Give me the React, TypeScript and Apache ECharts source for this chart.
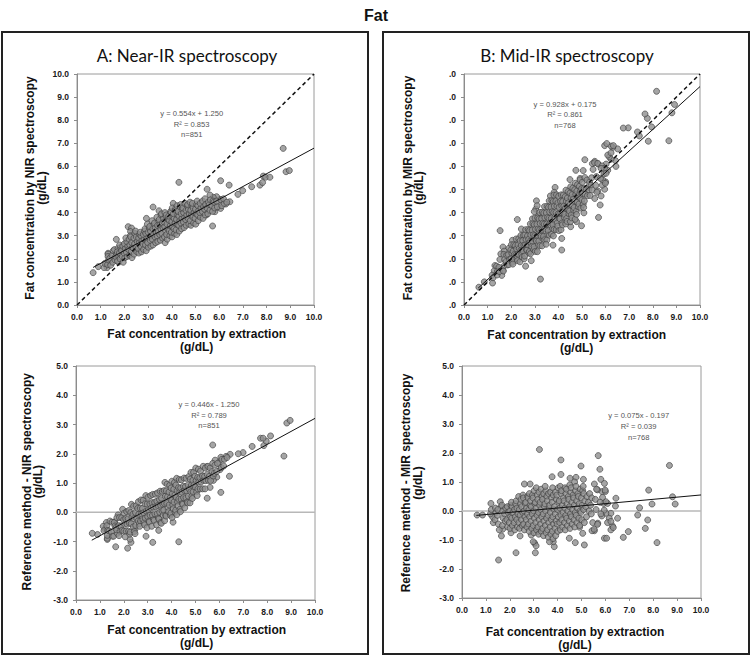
import React, { useEffect, useRef } from "react";
import * as echarts from "echarts";

// ---------- Data ----------
// Panel A: reference fat (x) vs NIR estimate (y)
const nirPoints: [number, number][] = [
  [8.70,6.78],[8.82,5.77],[8.96,5.82],[7.86,5.58],[7.96,5.53],[8.14,5.53],[7.72,5.19],[7.83,5.30],[7.37,5.12],[6.99,4.95],[6.79,4.79],[6.42,5.19],[6.06,5.38],[5.49,5.01],[5.72,3.42],[4.30,5.31],[6.45,4.47],[6.28,4.37],[6.03,4.57],[5.89,4.69],[5.75,4.66],[5.61,4.76],[5.96,4.26],[6.06,4.18],[5.82,4.04],[5.46,3.90],[3.21,4.24],[3.46,4.08],[2.93,3.75],[4.06,4.40],[2.16,3.39],[2.30,3.33],[1.66,2.84],[1.31,2.24],[0.90,1.66],[0.68,1.40],[1.21,1.78],[1.27,1.62],[1.62,1.95],[1.76,1.85],[2.26,3.18],[2.47,3.05],[1.31,2.20],
  [1.14,1.62],[1.17,1.80],[1.29,1.75],[1.33,1.95],[1.31,2.10],[1.42,1.72],[1.38,2.02],[1.51,1.85],[1.48,2.15],[1.53,2.35],[1.60,1.95],[1.63,2.10],[1.58,2.40],[1.71,1.90],[1.68,2.20],[1.73,2.45],[1.70,2.30],[1.82,2.00],[1.79,2.25],[1.84,2.50],[1.80,2.60],[1.91,2.10],[1.88,2.35],[1.93,2.55],[1.95,1.85],
  [2.02,2.05],[1.99,2.25],[2.04,2.45],[2.00,2.65],[2.12,2.10],[2.08,2.30],[2.14,2.55],[2.10,2.75],[2.06,2.90],[2.21,2.15],[2.18,2.40],[2.23,2.60],[2.20,2.85],[2.25,3.00],[2.32,2.05],[2.29,2.30],[2.34,2.50],[2.31,2.70],[2.27,2.95],[2.41,2.20],[2.38,2.45],[2.43,2.65],[2.40,2.90],[2.44,3.10],
  [2.52,2.30],[2.49,2.50],[2.54,2.75],[2.50,2.95],[2.47,3.20],[2.61,2.25],[2.58,2.45],[2.63,2.70],[2.60,2.90],[2.65,3.05],[2.72,2.30],[2.69,2.55],[2.74,2.80],[2.70,3.00],[2.67,3.15],[2.81,2.40],[2.78,2.65],[2.83,2.85],[2.80,3.05],[2.85,3.20],[2.92,2.35],[2.89,2.60],[2.94,2.90],[2.90,3.10],[2.87,3.30],
  [3.01,2.50],[2.98,2.70],[3.03,2.95],[3.00,3.15],[3.05,3.35],[2.97,3.50],[3.12,2.55],[3.09,2.80],[3.14,3.00],[3.10,3.20],[3.07,3.40],[3.21,2.60],[3.18,2.85],[3.23,3.05],[3.20,3.30],[3.25,3.50],[3.17,3.65],[3.32,2.70],[3.29,2.95],[3.34,3.15],[3.30,3.35],[3.27,3.55],[3.41,2.75],[3.38,3.00],[3.43,3.20],[3.40,3.45],[3.45,3.65],[3.37,3.80],
  [3.52,2.80],[3.49,3.05],[3.54,3.30],[3.50,3.50],[3.47,3.70],[3.55,3.90],[3.61,2.90],[3.58,3.10],[3.63,3.35],[3.60,3.55],[3.65,3.75],[3.57,3.95],[3.72,2.70],[3.69,2.95],[3.74,3.20],[3.70,3.40],[3.67,3.60],[3.75,3.85],[3.71,4.00],[3.81,2.85],[3.78,3.05],[3.83,3.30],[3.80,3.50],[3.85,3.70],[3.77,3.90],[3.92,3.00],[3.89,3.20],[3.94,3.45],[3.90,3.65],[3.87,3.85],[3.95,4.05],
  [4.01,2.95],[3.98,3.15],[4.03,3.40],[4.00,3.60],[4.05,3.80],[3.97,4.00],[4.02,4.20],[4.12,3.10],[4.09,3.30],[4.14,3.55],[4.10,3.75],[4.07,3.95],[4.15,4.15],[4.21,3.05],[4.18,3.25],[4.23,3.50],[4.20,3.70],[4.25,3.90],[4.17,4.10],[4.22,4.30],[4.32,3.20],[4.29,3.45],[4.34,3.65],[4.30,3.85],[4.27,4.05],[4.35,4.25],[4.41,3.30],[4.38,3.55],[4.43,3.75],[4.40,3.95],[4.45,4.15],[4.37,4.35],
  [4.52,3.35],[4.49,3.60],[4.54,3.80],[4.50,4.00],[4.47,4.20],[4.55,4.40],[4.61,3.45],[4.58,3.70],[4.63,3.90],[4.60,4.10],[4.65,4.30],[4.72,3.50],[4.69,3.75],[4.74,3.95],[4.70,4.15],[4.67,4.35],[4.81,3.45],[4.78,3.65],[4.83,3.90],[4.80,4.10],[4.85,4.30],[4.77,4.45],[4.92,3.55],[4.89,3.80],[4.94,4.00],[4.90,4.20],[4.87,4.40],
  [5.01,3.50],[4.98,3.75],[5.03,3.95],[5.00,4.15],[5.05,4.35],[5.12,3.65],[5.09,3.90],[5.14,4.10],[5.10,4.30],[5.07,4.50],[5.21,3.80],[5.18,4.00],[5.23,4.20],[5.20,4.40],[5.32,3.75],[5.29,4.05],[5.34,4.25],[5.30,4.50],[5.41,3.90],[5.38,4.15],[5.43,4.35],[5.40,4.60],
  [5.52,3.95],[5.49,4.20],[5.54,4.45],[5.61,4.10],[5.58,4.35],[5.63,4.55],[5.72,4.05],[5.69,4.30],[5.74,4.50],[5.81,4.20],[5.78,4.45],[5.92,4.25],[5.89,4.50],[6.11,4.30],[6.08,4.55],[6.21,4.40],[6.18,4.60],[6.32,4.45],
];

// Panel B: reference fat (x) vs (reference - MIR) difference
const mirDiffPoints: [number, number][] = [
  [3.24,2.12],[4.14,1.76],[5.70,1.91],[4.98,1.55],[8.68,1.57],[4.14,1.26],[5.77,1.44],[3.77,1.18],[2.61,0.93],[2.85,0.93],[4.52,1.13],[4.77,1.16],[5.08,1.09],[5.81,1.09],[5.96,0.95],[5.54,0.93],[5.86,0.67],[6.00,0.67],[6.44,0.44],[6.42,0.17],[8.81,0.49],[8.92,0.24],[7.95,0.24],[7.43,0.11],[7.81,0.72],[5.93,0.26],[6.09,0.26],[7.35,-0.14],[6.51,-0.25],[6.23,-0.08],[6.16,-0.25],[6.02,-0.08],[5.68,-0.42],[5.47,-0.40],[5.54,-0.68],[5.44,-0.68],[7.77,-0.31],[7.67,-0.60],[6.96,-0.71],[6.75,-0.91],[6.30,-0.52],[6.23,-0.65],[5.96,-0.94],[6.05,-0.94],[8.16,-1.09],[5.12,-1.17],[4.74,-1.09],[5.05,-0.77],[4.49,-0.94],[3.86,-1.23],[3.82,-1.06],[3.66,-1.06],[3.04,-1.11],[3.07,-1.44],[2.26,-1.44],[1.53,-1.69],[3.10,-1.20],[2.98,-1.06],[1.21,0.26],[0.63,-0.14],[0.86,-0.14],[1.60,0.32],[1.65,0.15],[1.65,-0.86],[1.70,-0.63],[1.31,-0.40],[1.56,-0.65],[1.28,-0.20],[2.05,-0.75],[2.43,-0.86],[2.90,-0.83],[3.17,-0.71],
  [6.09,-0.40],[6.23,-0.36],[5.53,-0.63],[5.67,-0.46],[5.85,-0.17],[5.95,0.03],[6.02,0.32],[5.88,0.47],[5.99,0.72],[5.67,0.73],[4.92,-0.56],[6.33,-0.57],
  [1.19,-0.10],[1.23,0.05],[1.38,-0.30],[1.42,-0.05],[1.40,0.10],[1.52,-0.45],[1.48,-0.15],[1.50,0.05],[1.69,-0.50],[1.72,-0.25],[1.70,0.00],[1.67,0.20],[1.81,-0.35],[1.78,-0.10],[1.83,0.10],[1.91,-0.55],[1.88,-0.30],[1.93,-0.05],[1.90,0.15],
  [2.01,-0.60],[1.98,-0.40],[2.03,-0.20],[2.00,0.00],[2.05,0.20],[2.11,-0.50],[2.08,-0.25],[2.13,-0.05],[2.10,0.15],[2.07,0.30],[2.21,-0.65],[2.18,-0.40],[2.23,-0.20],[2.20,0.05],[2.25,0.25],[2.32,-0.55],[2.29,-0.30],[2.34,-0.10],[2.30,0.10],[2.27,0.35],[2.41,-0.60],[2.38,-0.40],[2.43,-0.15],[2.40,0.05],[2.45,0.25],[2.37,0.50],
  [2.52,-0.50],[2.49,-0.30],[2.54,-0.05],[2.50,0.15],[2.47,0.40],[2.55,0.55],[2.61,-0.65],[2.58,-0.45],[2.63,-0.20],[2.60,0.00],[2.65,0.25],[2.57,0.45],[2.72,-0.55],[2.69,-0.30],[2.74,-0.10],[2.70,0.10],[2.67,0.30],[2.75,0.50],[2.81,-0.70],[2.78,-0.45],[2.83,-0.20],[2.80,0.05],[2.85,0.20],[2.77,0.45],[2.82,0.60],[2.92,-0.60],[2.89,-0.35],[2.94,-0.10],[2.90,0.15],[2.87,0.35],[2.95,0.55],
  [3.01,-0.75],[2.98,-0.50],[3.03,-0.25],[3.00,0.00],[3.05,0.25],[2.97,0.45],[3.02,0.70],[3.12,-0.65],[3.09,-0.40],[3.14,-0.15],[3.10,0.10],[3.07,0.30],[3.15,0.55],[3.11,0.80],[3.21,-0.80],[3.18,-0.55],[3.23,-0.30],[3.20,-0.05],[3.25,0.20],[3.17,0.40],[3.22,0.65],[3.32,-0.70],[3.29,-0.45],[3.34,-0.20],[3.30,0.05],[3.27,0.30],[3.35,0.50],[3.31,0.75],[3.41,-0.85],[3.38,-0.60],[3.43,-0.35],[3.40,-0.10],[3.45,0.15],[3.37,0.40],[3.42,0.60],
  [3.52,-0.75],[3.49,-0.50],[3.54,-0.25],[3.50,0.00],[3.47,0.25],[3.55,0.50],[3.51,0.70],[3.48,0.85],[3.61,-0.90],[3.58,-0.65],[3.63,-0.40],[3.60,-0.15],[3.65,0.10],[3.57,0.35],[3.62,0.60],[3.72,-0.80],[3.69,-0.55],[3.74,-0.30],[3.70,-0.05],[3.67,0.20],[3.75,0.45],[3.71,0.65],[3.81,-0.95],[3.78,-0.70],[3.83,-0.45],[3.80,-0.20],[3.85,0.05],[3.77,0.30],[3.82,0.55],[3.79,0.80],[3.92,-0.85],[3.89,-0.60],[3.94,-0.35],[3.90,-0.10],[3.87,0.15],[3.95,0.40],[3.91,0.65],
  [4.01,-0.70],[3.98,-0.45],[4.03,-0.20],[4.00,0.05],[4.05,0.30],[3.97,0.55],[4.02,0.80],[4.12,-0.65],[4.09,-0.40],[4.14,-0.15],[4.10,0.10],[4.07,0.35],[4.15,0.60],[4.11,0.85],[4.21,-0.55],[4.18,-0.30],[4.23,-0.05],[4.20,0.20],[4.25,0.45],[4.17,0.70],[4.32,-0.65],[4.29,-0.40],[4.34,-0.15],[4.30,0.10],[4.27,0.35],[4.35,0.60],[4.31,0.80],[4.41,-0.50],[4.38,-0.25],[4.43,0.00],[4.40,0.25],[4.45,0.50],[4.37,0.75],
  [4.52,-0.60],[4.49,-0.35],[4.54,-0.10],[4.50,0.15],[4.47,0.40],[4.55,0.65],[4.51,0.90],[4.61,-0.45],[4.58,-0.20],[4.63,0.05],[4.60,0.30],[4.65,0.55],[4.57,0.80],[4.72,-0.55],[4.69,-0.30],[4.74,-0.05],[4.70,0.20],[4.67,0.45],[4.75,0.70],[4.71,1.00],[4.81,-0.40],[4.78,-0.15],[4.83,0.10],[4.80,0.35],[4.85,0.60],[4.77,0.85],[4.92,-0.50],[4.89,-0.25],[4.94,0.00],[4.90,0.25],[4.87,0.50],[4.95,0.75],
  [5.01,-0.30],[4.98,-0.05],[5.03,0.20],[5.00,0.45],[5.05,0.70],[5.12,-0.40],[5.09,0.05],[5.14,0.35],[5.10,0.60],[5.07,0.85],[5.21,-0.20],[5.18,0.15],[5.23,0.50],[5.32,0.00],[5.29,0.30],[5.34,0.60],[5.41,-0.10],[5.38,0.20],[5.43,0.45],[5.61,0.05],[5.58,0.40],[5.63,0.75],[5.81,-0.10],[5.78,0.30],
];

// Regression fits shown in each panel: [slope, intercept, xStart, xEnd]
const fitNirTop = [0.554, 1.25, 0.68, 10];
const fitMirTop = [0.928, 0.175, 0.6, 10];
const fitNirDiff = [0.446, -1.25, 0.66, 10];
const fitMirDiff = [0.075, -0.197, 0.6, 10];

const eqNirTop = ["y = 0.554x + 1.250", "R\u00b2 = 0.853", "n=851"];
const eqMirTop = ["y = 0.928x + 0.175", "R\u00b2 = 0.861", "n=768"];
const eqNirDiff = ["y = 0.446x - 1.250", "R\u00b2 = 0.789", "n=851"];
const eqMirDiff = ["y = 0.075x - 0.197", "R\u00b2 = 0.039", "n=768"];

const xName = ["Fat concentration by extraction", "(g/dL)"];
const yNames = [
  ["Fat concentration by NIR spectroscopy", "(g/dL)"],
  ["Fat concentration by MIR spectroscopy", "(g/dL)"],
  ["Reference method - NIR spectroscopy", "(g/dL)"],
  ["Reference method - MIR spectroscopy", "(g/dL)"],
];

// ---------- Derived series ----------
const nirDiffPoints = nirPoints.map(([x, y]) => [x, +(x - y).toFixed(3)]);
const mirPoints = mirDiffPoints.map(([x, d]) => [x, +(x - d).toFixed(3)]);
const fitLine = (f: number[]) => [
  [f[2], f[0] * f[2] + f[1]],
  [f[3], f[0] * f[3] + f[1]],
];

const SANS = "'Liberation Sans', Arial, sans-serif";

export default function App() {
  const ref = useRef<HTMLDivElement>(null);

  useEffect(() => {
    document.body.style.margin = "0";
    const chart = echarts.init(ref.current!, null, { renderer: "svg" });

    const grids = [
      { left: 77, top: 74, width: 237, height: 231 },
      { left: 464, top: 74, width: 236, height: 231 },
      { left: 76, top: 366, width: 239, height: 234 },
      { left: 462, top: 366, width: 239, height: 232 },
    ];

    const axisLabel = {
      fontSize: 8.5,
      fontWeight: "bold" as const,
      color: "#1a1a1a",
      fontFamily: SANS,
    };
    const axisLine = { show: true, onZero: false, lineStyle: { color: "#8c8c8c", width: 1 } };
    const axisTick = { show: true, length: 3, lineStyle: { color: "#8c8c8c" } };

    const xAxes = grids.map((_, i) => ({
      type: "value",
      gridIndex: i,
      min: 0,
      max: 10,
      interval: 1,
      axisLine,
      axisTick,
      splitLine: { show: false },
      axisLabel: { ...axisLabel, margin: 7, formatter: (v: number) => v.toFixed(1) },
    }));

    const yAxes = grids.map((_, i) => ({
      type: "value",
      gridIndex: i,
      min: i < 2 ? 0 : -3,
      max: i < 2 ? 10 : 5,
      interval: 1,
      axisLine,
      axisTick,
      splitLine: { show: false },
      axisLabel: {
        ...axisLabel,
        margin: 8,
        formatter: i === 1 ? () => ".0" : (v: number) => v.toFixed(1),
      },
    }));

    const scatterStyle = { color: "#8e8e8e", borderColor: "#3c3c3c", borderWidth: 0.8 };
    const scatter = (i: number, data: number[][]) => ({
      type: "scatter",
      xAxisIndex: i,
      yAxisIndex: i,
      data,
      symbolSize: 6,
      itemStyle: scatterStyle,
      z: 3,
      silent: true,
    });
    const line = (i: number, data: number[][], style: any, z: number) => ({
      type: "line",
      xAxisIndex: i,
      yAxisIndex: i,
      data,
      symbol: "none",
      lineStyle: style,
      z,
      silent: true,
    });

    const series = [
      line(2, [[0, 0], [10, 0]], { color: "#b8b8b8", width: 1.5 }, 1),
      line(3, [[0, 0], [10, 0]], { color: "#b8b8b8", width: 1.5 }, 1),
      scatter(0, nirPoints),
      scatter(1, mirPoints),
      scatter(2, nirDiffPoints),
      scatter(3, mirDiffPoints),
      line(0, [[0, 0], [10, 10]], { color: "#111", width: 1.5, type: [4, 3] }, 4),
      line(1, [[0, 0], [10, 10]], { color: "#111", width: 1.5, type: [4, 3] }, 4),
      line(0, fitLine(fitNirTop), { color: "#111", width: 1 }, 5),
      line(1, fitLine(fitMirTop), { color: "#111", width: 1 }, 5),
      line(2, fitLine(fitNirDiff), { color: "#111", width: 1 }, 5),
      line(3, fitLine(fitMirDiff), { color: "#111", width: 1 }, 5),
    ];

    const txt = (text: string, x: number, y: number, extra: any = {}, rotation = 0) => ({
      type: "text",
      x,
      y,
      rotation,
      z: 10,
      style: {
        text,
        fontFamily: SANS,
        align: "center",
        verticalAlign: "middle",
        ...extra,
      },
    });
    const eqTexts = (lines: string[], x: number, y0: number, lh: number) =>
      lines.map((t, k) => txt(t, x, y0 + k * lh, { fontSize: 7.6, fill: "#555" }));
    const nameStyle = { fontSize: 12, fontWeight: "bold", fill: "#111" };
    const xNameTexts = (x: number, y0: number, lh: number) =>
      xName.map((t, k) => txt(t, x, y0 + k * lh, nameStyle));
    const yNameTexts = (lines: string[], x0: number, y: number, lh: number) =>
      lines.map((t, k) => txt(t, x0 + k * lh, y, nameStyle, Math.PI / 2));

    const graphic = [
      { type: "rect", shape: { x: 2, y: 32, width: 366, height: 622 }, style: { fill: "none", stroke: "#222", lineWidth: 2 } },
      { type: "rect", shape: { x: 383, y: 32, width: 366, height: 622 }, style: { fill: "none", stroke: "#222", lineWidth: 2 } },
      txt("Fat", 376, 15, { fontSize: 16, fontWeight: "bold", fill: "#111" }),
      txt("A: Near-IR spectroscopy", 187, 55, { fontSize: 17, fontFamily: "Lato, sans-serif", fill: "#111" }),
      txt("B: Mid-IR spectroscopy", 567, 55, { fontSize: 17, fontFamily: "Lato, sans-serif", fill: "#111" }),
      ...eqTexts(eqNirTop, 191.7, 113.3, 10.7),
      ...eqTexts(eqMirTop, 565, 104.3, 10.4),
      ...eqTexts(eqNirDiff, 209, 404.3, 10.7),
      ...eqTexts(eqMirDiff, 638.7, 415.7, 10.8),
      ...xNameTexts(196.7, 333.5, 13),
      ...xNameTexts(576.7, 334.5, 13),
      ...xNameTexts(196.7, 630, 13),
      ...xNameTexts(575, 631.7, 13.3),
      ...yNameTexts(yNames[0], 30, 188, 11.7),
      ...yNameTexts(yNames[1], 407.7, 188, 11.6),
      ...yNameTexts(yNames[2], 26.7, 481.7, 11.6),
      ...yNameTexts(yNames[3], 406, 483, 11.7),
    ];

    chart.setOption({
      animation: false,
      backgroundColor: "#fff",
      grid: grids.map((g) => ({ ...g, show: true, borderColor: "#9a9a9a", borderWidth: 1, backgroundColor: "transparent" })),
      xAxis: xAxes,
      yAxis: yAxes,
      series,
      graphic,
    });

    return () => chart.dispose();
  }, []);

  return <div ref={ref} style={{ width: 752, height: 659 }} />;
}
